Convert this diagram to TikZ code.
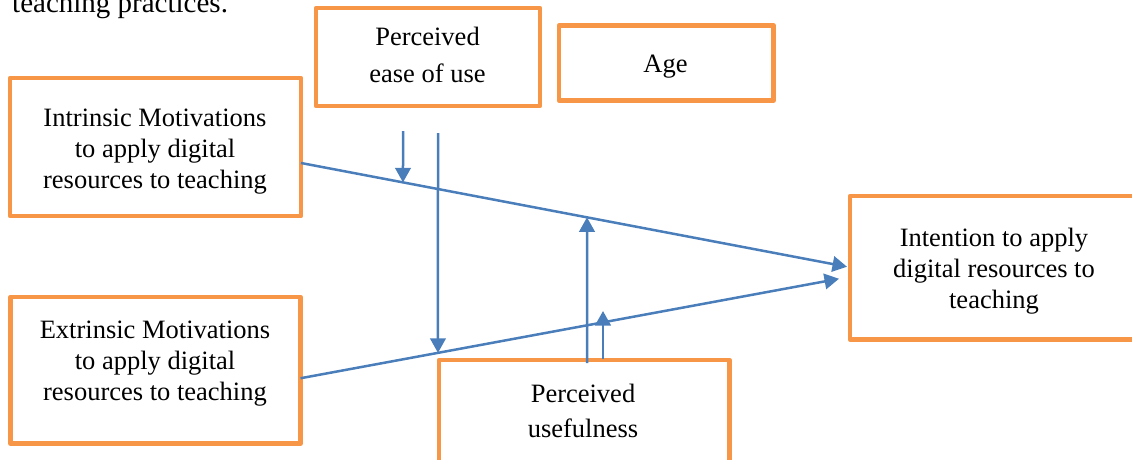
\documentclass[tikz,border=0pt]{standalone}
\usepackage{fontspec}
\setmainfont{Liberation Serif}
\usetikzlibrary{arrows.meta,calc}
\definecolor{boxorange}{HTML}{F79646}
\definecolor{linkblue}{HTML}{4A7EBB}
\begin{document}
\begin{tikzpicture}[x=1pt,y=-1pt,
  box/.style={draw=boxorange,line width=4.5pt,line join=round,rectangle,inner sep=0pt,outer sep=0pt},
  lbl/.style={font=\fontsize{26.5}{31}\selectfont,align=center,inner sep=0pt},
  link/.style={draw=linkblue,line width=2.5pt,-{Triangle[length=14.5pt,width=15.5pt]}}]
\useasboundingbox (0,0) rectangle (1132,460);

\node[font=\fontsize{29}{34}\selectfont,anchor=base west,inner sep=0pt] (intro) at (12,13) {teaching practices.};

\node[box,minimum width=291pt,minimum height=138pt] (intr) at (155.5,147) {};
\node[box,minimum width=290pt,minimum height=146.5pt] (extr) at (155.5,370.25) {};
\node[box,minimum width=224pt,minimum height=98pt] (ease) at (428,57) {};
\node[box,minimum width=214.5pt,minimum height=75pt] (age) at (666.25,63) {};
\node[box,minimum width=288pt,minimum height=143.5pt] (intn) at (994,267.75) {};
\node[box,minimum width=290.5pt,minimum height=110pt] (usef) at (584.25,415) {};

\node[lbl] (intrT) at (155,152) {Intrinsic Motivations\\to apply digital\\resources to teaching};
\node[lbl] (extrT) at (155,364) {Extrinsic Motivations\\to apply digital\\resources to teaching};
\node[lbl] (easeT) at (427.5,55) {Perceived\\[5.5pt]ease of use};
\node[lbl,anchor=base] (ageT) at (665.5,72.7) {Age};
\node[lbl] (intnT) at (994,271.5) {Intention to apply\\digital resources to\\teaching};
\node[lbl] (usefT) at (583,411) {Perceived\\[4pt]usefulness};

\coordinate (a1) at ($(intr.east)+(0,16)$);
\coordinate (a2) at ($(intn.west)+(-3,-1)$);
\coordinate (b1) at ($(extr.east)+(0,8)$);
\coordinate (b2) at ($(intn.west)+(-11,11)$);
\draw[link] (a1) -- (a2);
\draw[link] (b1) -- (b2);

\coordinate (p1) at ($(a1)!0.1868!(a2)$);
\coordinate (p2) at ($(a1)!0.5238!(a2)$);
\coordinate (q1) at ($(b1)!0.2553!(b2)$);
\coordinate (e1) at (403,131);
\coordinate (e2) at (438,133);
\coordinate (u1) at (587,363);
\coordinate (u2) at (603,359);
\coordinate (u2t) at (603,311);

\draw[link] (e1) -- (p1);
\draw[link] (e2) -- (q1);
\draw[link] (u1) -- (p2);
\draw[link] (u2) -- (u2t);
\end{tikzpicture}
\end{document}
